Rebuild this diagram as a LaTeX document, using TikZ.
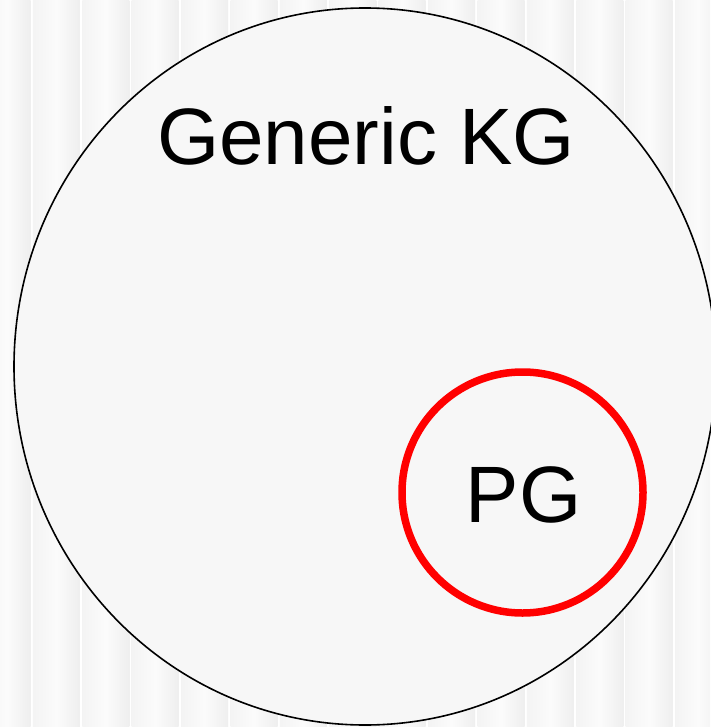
\documentclass[tikz,border=0pt]{standalone}
\usepackage{fontspec}
\setmainfont{Liberation Sans}
\usetikzlibrary{shapes.geometric}
\tikzset{
  stripe/.style={left color=gray!9, right color=gray!13, middle color=white!97!gray, draw=none},
  outerset/.style={ellipse, draw=black, line width=1.6pt, fill=white!97!black, minimum width=702pt, minimum height=717pt, inner sep=0pt},
  subset/.style={circle, draw=red, line width=7.5pt, minimum size=241pt, inner sep=0pt},
  biglabel/.style={font=\fontsize{80}{96}\selectfont, anchor=base, inner sep=0pt}
}
\begin{document}
\begin{tikzpicture}[x=1pt,y=-1pt]
\useasboundingbox (0,0) rectangle (710,727);
\fill[white] (0,0) rectangle (710,727);
\begin{scope}
\clip (0,0) rectangle (710,727);
\foreach \k in {-1,...,14}{
  \shade[stripe] ({31.7+49.4*\k+1.2},0) rectangle ({31.7+49.4*(\k+1)-1.2},727);
}
\end{scope}
\node[outerset] (kg) at (365,366.5) {};
\node[subset] (pg) at (522.5,492.5) {};
\node[biglabel] (kglabel) at (366,165) {Generic KG};
\node[biglabel] (pglabel) at (523.5,522) {PG};
\end{tikzpicture}
\end{document}
